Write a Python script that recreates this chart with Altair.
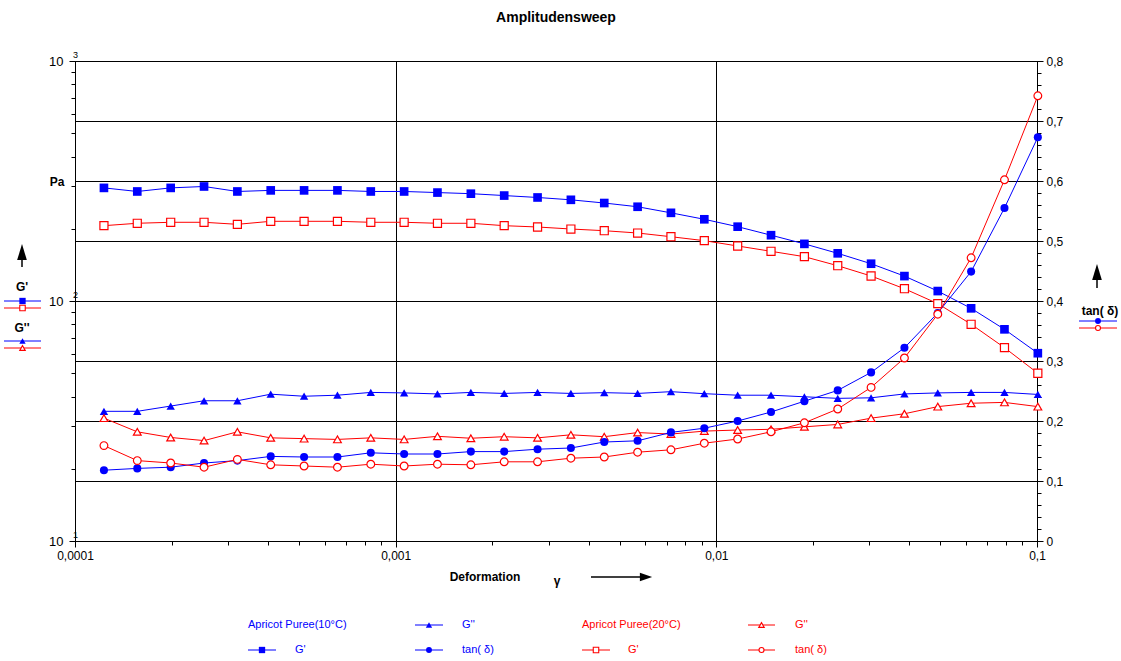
import altair as alt
import pandas as pd

# ---------------- data ----------------
strain = [1.231e-4, 1.564e-4, 1.988e-4, 2.526e-4, 3.209e-4, 4.077e-4, 5.181e-4,
          6.583e-4, 8.364e-4, 1.0627e-3, 1.350e-3, 1.716e-3, 2.180e-3, 2.770e-3,
          3.519e-3, 4.472e-3, 5.682e-3, 7.219e-3, 9.173e-3, 1.1655e-2, 1.481e-2,
          1.882e-2, 2.391e-2, 3.038e-2, 3.860e-2, 4.904e-2, 6.231e-2, 7.917e-2, 0.1006]

gp_10 = [296, 286, 296, 300, 286, 289, 289, 289, 286, 286, 283, 280, 275, 270, 264,
         256, 247, 233, 219, 204, 188, 173, 158, 143, 127, 110, 93.2, 76.2, 60.6]
gp_20 = [206, 210.8, 212.8, 212.8, 208.7, 214.8, 214.8, 214.8, 212.8, 212.8, 210.8,
         210.8, 206, 203.4, 199.5, 196.3, 192, 185.3, 178.4, 169.5, 161.1, 153,
         140.3, 127.1, 112.5, 97.5, 80, 63.9, 50]
gpp_10 = [34.7, 34.7, 36.5, 38.4, 38.4, 40.9, 40.1, 40.5, 41.6, 41.4, 41.0, 41.6,
          41.2, 41.6, 41.2, 41.5, 41.2, 41.9, 41.1, 40.5, 40.5, 39.9, 39.3, 39.5,
          41.0, 41.4, 41.6, 41.6, 40.8]
gpp_20 = [32.5, 28.5, 27.0, 26.2, 28.5, 26.9, 26.7, 26.5, 26.9, 26.5, 27.3, 26.8,
          27.2, 26.9, 27.7, 27.2, 28.3, 27.9, 28.7, 29.0, 29.2, 29.9, 30.6, 32.5,
          33.9, 36.3, 37.5, 37.8, 36.3]
tan_10 = [0.118, 0.121, 0.123, 0.130, 0.134, 0.141, 0.140, 0.140, 0.147, 0.145,
          0.145, 0.149, 0.149, 0.153, 0.155, 0.165, 0.167, 0.181, 0.188, 0.200,
          0.215, 0.233, 0.251, 0.281, 0.322, 0.380, 0.449, 0.555, 0.673]
tan_20 = [0.159, 0.134, 0.130, 0.123, 0.136, 0.127, 0.125, 0.123, 0.128, 0.125,
          0.128, 0.127, 0.132, 0.132, 0.138, 0.140, 0.148, 0.152, 0.163, 0.170,
          0.182, 0.197, 0.220, 0.256, 0.305, 0.378, 0.472, 0.602, 0.742]

x_ticks = [m * 10 ** e for e in (-4, -3, -2) for m in range(1, 10)] + [0.1]
yl_ticks = [m * 10 ** e for e in (1, 2) for m in range(1, 10)] + [1000]
yr_ticks = [i / 50 for i in range(0, 41)]

BLUE = "#0000FF"
RED = "#FF0000"
FONT = "Liberation Sans"

df = pd.DataFrame({"strain": strain, "gp10": gp_10, "gp20": gp_20,
                   "gpp10": gpp_10, "gpp20": gpp_20, "tan10": tan_10, "tan20": tan_20})
dummy = pd.DataFrame({"a": [0]})

W, H = 962, 480

# ---------------- scales & axes ----------------
xscale = alt.Scale(type="log", domain=[1e-4, 0.1], nice=False)
ylscale = alt.Scale(type="log", domain=[10, 1000], nice=False)
yrscale = alt.Scale(type="linear", domain=[0, 0.8], nice=False, zero=True)

DEC = "abs(log(datum.value)/LN10 - round(log(datum.value)/LN10)) < 0.001"
TENTH = "abs(datum.value*10 - round(datum.value*10)) < 0.001"

xaxis = alt.Axis(
    values=x_ticks, title=None,
    labelExpr=f"{DEC} ? replace(format(datum.value, '~g'), '.', ',') : ''",
    grid=True, gridColor="black", gridWidth=1,
    gridOpacity={"condition": {"test": DEC, "value": 1}, "value": 0},
    tickSize={"condition": {"test": DEC, "value": 6}, "value": 4},
    tickColor="black", domainColor="black", labelColor="black",
    labelFont=FONT, labelFontSize=12, labelPadding=3, labelFlush=False,
)
ylaxis = alt.Axis(
    values=yl_ticks, title=None, orient="left", grid=False,
    labelExpr=f"{DEC} ? '10' : ''",
    tickSize={"condition": {"test": DEC, "value": 6}, "value": 4},
    tickColor="black", domainColor="black", labelColor="black",
    labelFont=FONT, labelFontSize=13, labelPadding=6,
)
yraxis = alt.Axis(
    values=yr_ticks, title=None, orient="right",
    labelExpr=f"{TENTH} ? replace(format(datum.value, '~g'), '.', ',') : ''",
    grid=True, gridColor="black", gridWidth=1,
    gridOpacity={"condition": {"test": TENTH, "value": 1}, "value": 0},
    tickSize={"condition": {"test": TENTH, "value": 6}, "value": 4},
    tickColor="black", domainColor="black", labelColor="black",
    labelFont=FONT, labelFontSize=12, labelPadding=3,
)


def series(col, color, shape, filled, size, scale, axis):
    base = alt.Chart(df).encode(
        x=alt.X("strain:Q", scale=xscale, axis=xaxis),
        y=alt.Y(f"{col}:Q", scale=scale, axis=axis),
    )
    line = base.mark_line(color=color, strokeWidth=1)
    pts = base.mark_point(shape=shape, filled=True, fill=color if filled else "white",
                          stroke=color, strokeWidth=0 if filled else 1.2,
                          size=size, opacity=1, fillOpacity=1)
    return [line, pts]


def text(t, x, y, size=12, bold=True, color="black", align="center"):
    return alt.Chart(dummy).mark_text(
        text=t, font=FONT, fontSize=size, fontWeight="bold" if bold else "normal",
        color=color, align=align, baseline="middle",
    ).encode(x=alt.value(x), y=alt.value(y))


def sample(x0, x1, y, color, shape, filled, size):
    r = alt.Chart(dummy).mark_rule(color=color, strokeWidth=1).encode(
        x=alt.value(x0), x2=alt.value(x1), y=alt.value(y))
    p = alt.Chart(dummy).mark_point(shape=shape, filled=True,
                                    fill=color if filled else "white", stroke=color,
                                    strokeWidth=0 if filled else 1.1, size=size,
                                    opacity=1).encode(x=alt.value((x0 + x1) / 2), y=alt.value(y))
    return [r, p]


UP = "M-0.6,1 L0,-1 L0.6,1 Z"
RIGHT = "M-1,-0.7 L1,0 L-1,0.7 Z"


def arrow_up(x, y0, y1):
    r = alt.Chart(dummy).mark_rule(color="black", strokeWidth=1.5).encode(
        x=alt.value(x), y=alt.value(y0), y2=alt.value(y1 + 7))
    p = alt.Chart(dummy).mark_point(shape=UP, filled=True, color="black", size=260,
                                    opacity=1).encode(x=alt.value(x), y=alt.value(y1 + 7))
    return [r, p]


def arrow_right(x0, x1, y):
    r = alt.Chart(dummy).mark_rule(color="black", strokeWidth=1.5).encode(
        x=alt.value(x0), x2=alt.value(x1 - 6), y=alt.value(y))
    p = alt.Chart(dummy).mark_point(shape=RIGHT, filled=True, color="black", size=150,
                                    opacity=1).encode(x=alt.value(x1 - 6), y=alt.value(y))
    return [r, p]


# ---------------- layers ----------------
left_layers = (
    series("gp10", BLUE, "square", True, 75, ylscale, ylaxis)
    + series("gpp10", BLUE, "triangle-up", True, 70, ylscale, ylaxis)
    + series("gp20", RED, "square", False, 65, ylscale, ylaxis)
    + series("gpp20", RED, "triangle-up", False, 60, ylscale, ylaxis)
)

annotations = []
annotations += [text("Amplitudensweep", W / 2, -43, size=14)]
# exponents of the left axis labels
annotations += [text("3", -2, -6, size=9, bold=False, align="left")]
annotations += [text("2", -2, 234, size=9, bold=False, align="left")]
annotations += [text("1", -2, 474, size=9, bold=False, align="left")]
annotations += [text("Pa", -18, 121)]
annotations += arrow_up(-53, 206, 184)
annotations += [text("G'", -53, 226)]
annotations += sample(-71, -34, 240, BLUE, "square", True, 40)
annotations += sample(-71, -34, 247, RED, "square", False, 30)
annotations += [text("G''", -53, 267)]
annotations += sample(-71, -34, 280, BLUE, "triangle-up", True, 40)
annotations += sample(-71, -34, 287, RED, "triangle-up", False, 30)
annotations += arrow_up(1022, 227, 204)
annotations += [text("tan( δ)", 1025, 250)]
annotations += sample(1004, 1042, 260, BLUE, "circle", True, 35)
annotations += sample(1004, 1042, 267, RED, "circle", False, 25)
annotations += [text("Deformation", 410, 516)]
annotations += [text("γ", 482, 520)]
annotations += arrow_right(516, 577, 516)
# bottom legend
annotations += [text("Apricot Puree(10°C)", 173, 564, size=11, bold=False, color=BLUE, align="left")]
annotations += sample(340, 368, 564, BLUE, "triangle-up", True, 40)
annotations += [text("G''", 387, 564, size=11, bold=False, color=BLUE, align="left")]
annotations += [text("Apricot Puree(20°C)", 507, 564, size=11, bold=False, color=RED, align="left")]
annotations += sample(673, 700, 564, RED, "triangle-up", False, 30)
annotations += [text("G''", 720, 564, size=11, bold=False, color=RED, align="left")]
annotations += sample(173, 201, 589, BLUE, "square", True, 40)
annotations += [text("G'", 220, 589, size=11, bold=False, color=BLUE, align="left")]
annotations += sample(340, 368, 589, BLUE, "circle", True, 35)
annotations += [text("tan( δ)", 387, 589, size=11, bold=False, color=BLUE, align="left")]
annotations += sample(507, 535, 589, RED, "square", False, 30)
annotations += [text("G'", 553, 589, size=11, bold=False, color=RED, align="left")]
annotations += sample(673, 700, 589, RED, "circle", False, 25)
annotations += [text("tan( δ)", 720, 589, size=11, bold=False, color=RED, align="left")]

left = alt.layer(*left_layers, *annotations)
right = alt.layer(
    *series("tan10", BLUE, "circle", True, 65, yrscale, yraxis),
    *series("tan20", RED, "circle", False, 60, yrscale, yraxis),
)

chart = (
    alt.layer(left, right)
    .resolve_scale(y="independent")
    .properties(
        width=W, height=H,
        autosize=alt.AutoSizeParams(type="none"),
        padding={"left": 75, "top": 61, "right": 84, "bottom": 120},
        background="white",
    )
    .configure_view(stroke="black", strokeWidth=1)
)

chart.save("out.html", embed_options={"renderer": "svg", "actions": False})
